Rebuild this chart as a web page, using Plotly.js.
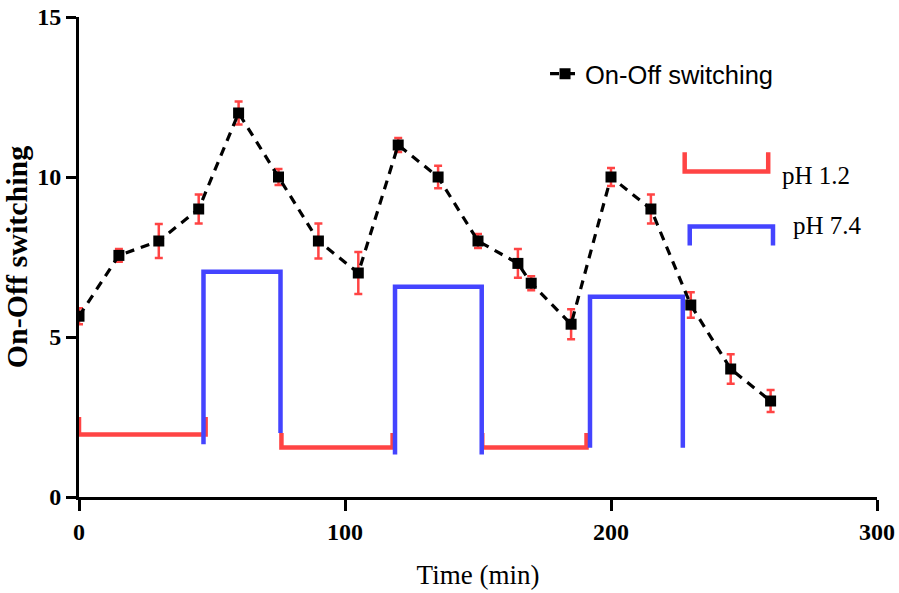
<!DOCTYPE html>
<html>
<head>
<meta charset="utf-8">
<script src="https://cdn.plot.ly/plotly-3.0.1.min.js"></script>
<style>html,body{margin:0;padding:0;background:#fff;}#chart{width:899px;height:593px;}</style>
</head>
<body>
<div id="chart"></div>
<script>
// Data
const timeMin = [0, 15, 30, 45, 60, 75, 90, 105, 120, 135, 150, 165, 170, 185, 200, 215, 230, 245, 260];
const switching = [5.65, 7.55, 8.0, 9.0, 12.0, 10.0, 8.0, 7.0, 11.0, 10.0, 8.0, 7.3, 6.68, 5.4, 10.0, 9.0, 6.0, 4.0, 3.0];
const switchingErr = [0.25, 0.2, 0.53, 0.45, 0.36, 0.25, 0.55, 0.66, 0.22, 0.35, 0.22, 0.45, 0.22, 0.47, 0.28, 0.45, 0.4, 0.46, 0.34];

// pH 1.2 periods (red brackets) and pH 7.4 periods (blue brackets)
const redX = [0, 0, 47.6, 47.6, null, 76.1, 76.1, 117.9, 117.9, null, 151.6, 151.6, 190.8, 190.8, null, 227.7, 227.7, 259.1, 259.1];
const redY = [2.5, 1.95, 1.95, 2.5, null, 2.0, 1.55, 1.55, 2.0, null, 2.0, 1.55, 1.55, 2.0, null, 10.77, 10.17, 10.17, 10.77];
const blueX = [46.8, 46.8, 75.75, 75.75, null, 118.8, 118.8, 151.4, 151.4, null, 192.1, 192.1, 227.0, 227.0, null, 229.6, 229.6, 260.9, 260.9];
const blueY = [1.65, 7.04, 7.04, 2.0, null, 1.33, 6.57, 6.57, 1.33, null, 1.54, 6.26, 6.26, 1.54, null, 7.86, 8.45, 8.45, 7.86];

const labels = ["pH 1.2", "pH 7.4"];
const labelX = [263.7, 267.5];
const labelY = [10.05, 8.5];

const RED = "#ff4444";
const BLUE = "#4444ff";
const serif = "Liberation Serif, Times New Roman, serif";

const traces = [
  {x: redX, y: redY, mode: "lines", line: {color: RED, width: 4.5}, showlegend: false, hoverinfo: "skip"},
  {x: blueX, y: blueY, mode: "lines", line: {color: BLUE, width: 4.5}, showlegend: false, hoverinfo: "skip"},
  {
    x: timeMin, y: switching, name: "On-Off switching", mode: "lines+markers",
    line: {color: "#000", width: 3.2, dash: "9px,7px"},
    marker: {symbol: "square", size: 11, color: "#000"},
    error_y: {type: "data", array: switchingErr, visible: true, color: RED, thickness: 2.5, width: 4}
  }
];

const layout = {
  width: 899, height: 593,
  margin: {l: 78.5, r: 22.3, t: 16.7, b: 96.3},
  paper_bgcolor: "#fff", plot_bgcolor: "#fff",
  showlegend: true,
  legend: {x: 0.584, y: 0.881, xanchor: "left", yanchor: "middle", bgcolor: "rgba(0,0,0,0)",
           font: {family: "Liberation Sans, Arial, sans-serif", size: 25.5, color: "#000"}},
  xaxis: {
    range: [0, 300], tickvals: [0, 100, 200, 300], ticktext: ["0", "100", "200", "300"],
    showgrid: false, zeroline: false, showline: true, linecolor: "#000", linewidth: 3,
    ticks: "outside", ticklen: 11, tickwidth: 3, tickcolor: "#000",
    tickfont: {family: serif, size: 24, color: "#000", weight: "bold"},
    title: {text: "Time (min)", font: {family: serif, size: 27, color: "#000"}, standoff: 22}
  },
  yaxis: {
    range: [0, 15], tickvals: [0, 5, 10, 15], ticktext: ["0", "5", "10", "15"],
    showgrid: false, zeroline: false, showline: true, linecolor: "#000", linewidth: 3,
    ticks: "outside", ticklen: 10, tickwidth: 3, tickcolor: "#000",
    tickfont: {family: serif, size: 24, color: "#000", weight: "bold"},
    title: {text: "On-Off switching", font: {family: serif, size: 30, color: "#000", weight: "bold"}, standoff: 6}
  },
  annotations: labels.map((t, i) => ({
    x: labelX[i], y: labelY[i], xref: "x", yref: "y", text: t, showarrow: false,
    xanchor: "left", yanchor: "middle", font: {family: serif, size: 25, color: "#000"}
  }))
};

Plotly.newPlot("chart", traces, layout, {displayModeBar: false, staticPlot: true});
</script>
</body>
</html>
